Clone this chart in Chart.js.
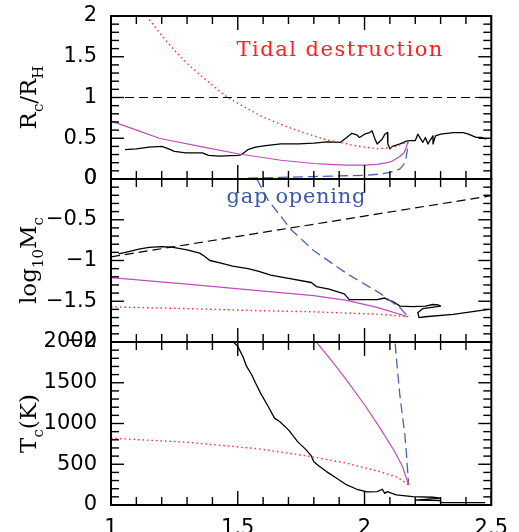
<!DOCTYPE html>
<html>
<head>
<meta charset="utf-8">
<script src="https://cdn.jsdelivr.net/npm/chart.js@4/dist/chart.umd.min.js"></script>
<style>
  html, body { margin: 0; padding: 0; background: #fff; }
  #wrap { width: 519px; height: 532px; position: relative; }
</style>
</head>
<body>
<div id="wrap"><canvas id="c" width="519" height="532"></canvas></div>
<script>
// ---- panel 1: R_c / R_H ----
const rHillX = [1, 2.5];
const rHillY = [1, 1];
const rTidalX = [1.14, 1.2, 1.25, 1.3, 1.35, 1.4, 1.46, 1.54, 1.6, 1.67, 1.74, 1.8, 1.85, 1.92, 1.96, 2.05, 2.11, 2.15, 2.172];
const rTidalY = [2.0, 1.76, 1.58, 1.42, 1.28, 1.15, 1.0, 0.86, 0.76, 0.67, 0.59, 0.53, 0.48, 0.44, 0.41, 0.37, 0.385, 0.43, 0.47];
const rGasX = [1, 1.11, 1.19, 1.35, 1.5, 1.67, 1.8, 1.86, 1.93, 2.0, 2.05, 2.09, 2.11, 2.14, 2.155, 2.165, 2.172];
const rGasY = [0.71, 0.59, 0.50, 0.40, 0.31, 0.23, 0.19, 0.18, 0.17, 0.17, 0.18, 0.20, 0.22, 0.28, 0.32, 0.39, 0.47];
const rGapX = [1.54, 1.67, 1.8, 1.93, 2.0, 2.06, 2.1, 2.14, 2.155, 2.163, 2.168, 2.172];
const rGapY = [0.01, 0.02, 0.03, 0.04, 0.045, 0.06, 0.08, 0.125, 0.18, 0.25, 0.34, 0.47];
const rSimX = [1.055, 1.10, 1.15, 1.20, 1.22, 1.25, 1.295, 1.36, 1.385, 1.425, 1.50, 1.515, 1.54, 1.57, 1.61, 1.67, 1.74, 1.80, 1.853, 1.905,
  1.93, 1.95, 1.97, 1.98, 2.0, 2.02, 2.03, 2.04, 2.05, 2.07, 2.08, 2.09, 2.092, 2.10, 2.11, 2.14, 2.17, 2.20, 2.21, 2.23,
  2.24, 2.25, 2.27, 2.27, 2.28, 2.30, 2.35, 2.39, 2.41, 2.44, 2.46, 2.48];
const rSimY = [0.36, 0.37, 0.39, 0.40, 0.38, 0.34, 0.32, 0.32, 0.29, 0.28, 0.29, 0.30, 0.36, 0.39, 0.41, 0.43, 0.43, 0.44, 0.455, 0.45,
  0.51, 0.56, 0.54, 0.51, 0.55, 0.57, 0.59, 0.50, 0.43, 0.49, 0.55, 0.57, 0.43, 0.37, 0.40, 0.43, 0.47, 0.47, 0.55, 0.45,
  0.51, 0.43, 0.53, 0.43, 0.53, 0.55, 0.57, 0.57, 0.55, 0.51, 0.51, 0.49];

// ---- panel 2: log10 M_c ----
const mCritX = [1, 2.5];
const mCritY = [-0.955, -0.205];
const mTidalX = [1, 1.3, 1.58, 1.8, 2.06, 2.172];
const mTidalY = [-1.57, -1.59, -1.615, -1.63, -1.66, -1.69];
const mGasX = [1, 1.3, 1.58, 1.8, 1.93, 2.05, 2.172];
const mGasY = [-1.21, -1.29, -1.37, -1.43, -1.49, -1.575, -1.69];
const mGapX = [1.575, 1.62, 1.71, 1.80, 1.93, 2.06, 2.14, 2.172];
const mGapY = [0, -0.26, -0.62, -0.88, -1.16, -1.40, -1.58, -1.69];
const mSimX = [1.03, 1.07, 1.11, 1.15, 1.2, 1.24, 1.3, 1.35, 1.37, 1.39, 1.43, 1.48, 1.54, 1.58, 1.63, 1.7, 1.79, 1.81, 1.86, 1.92,
  1.94, 2.0, 2.05, 2.08, 2.09, 2.11, 2.14, 2.19, 2.24, 2.27, 2.29, 2.30, 2.23, 2.21, 2.215, 2.24, 2.35, 2.44, 2.49];
const mSimY = [-0.92, -0.89, -0.86, -0.84, -0.83, -0.835, -0.87, -0.91, -0.95, -1.0, -1.03, -1.07, -1.10, -1.13, -1.18, -1.22, -1.27, -1.32, -1.35, -1.41,
  -1.48, -1.48, -1.48, -1.46, -1.48, -1.50, -1.56, -1.565, -1.56, -1.54, -1.545, -1.56, -1.59, -1.64, -1.70, -1.69, -1.66, -1.62, -1.60];

// ---- panel 3: T_c (K) ----
const tTidalX = [1, 1.3, 1.58, 1.79, 1.93, 2.06, 2.13, 2.174];
const tTidalY = [820, 770, 690, 594, 512, 410, 340, 246];
const tGasX = [1.81, 1.87, 1.93, 2.0, 2.06, 2.12, 2.15, 2.174];
const tGasY = [2000, 1770, 1530, 1230, 950, 650, 470, 246];
const tGapX = [2.121, 2.13, 2.14, 2.15, 2.158, 2.166, 2.174];
const tGapY = [1980, 1650, 1330, 1080, 900, 600, 246];
const tSimX = [1.483, 1.50, 1.52, 1.535, 1.555, 1.57, 1.59, 1.62, 1.645, 1.665, 1.70, 1.736, 1.77, 1.79, 1.80, 1.82, 1.85, 1.89, 1.93, 1.97,
  2.01, 2.05, 2.07, 2.08, 2.09, 2.125, 2.19, 2.27, 2.30, 2.20, 2.30, 2.30, 2.40, 2.476];
const tSimY = [2000, 1946, 1823, 1700, 1598, 1496, 1373, 1209, 1066, 1024, 922, 778, 676, 602, 532, 479, 410, 328, 246, 193,
  160, 164, 193, 143, 164, 123, 102, 95, 85, 60, 55, 30, 28, 28];

const pts = (xs, ys) => xs.map((x, i) => ({ x, y: ys[i] }));

const RED = '#ff2a2a', MAG = '#c04cbc', BLUE = '#4862b0', BLK = '#000';

function line(xs, ys, axis, color, width, dash) {
  return {
    data: pts(xs, ys), yAxisID: axis, showLine: true, pointRadius: 0,
    borderColor: color, borderWidth: width, borderDash: dash || [],
    borderJoinStyle: 'round', fill: false, tension: 0, clip: false
  };
}

const datasets = [
  line(rHillX, rHillY, 'yR', BLK, 1.2, [9, 5]),
  line(rTidalX, rTidalY, 'yR', RED, 1.4, [1.5, 3]),
  line(rGasX, rGasY, 'yR', MAG, 1.2),
  line(rGapX, rGapY, 'yR', BLUE, 1.3, [10, 5]),
  line(rSimX, rSimY, 'yR', BLK, 1.3),
  line(mCritX, mCritY, 'yM', BLK, 1.2, [9, 5]),
  line(mTidalX, mTidalY, 'yM', RED, 1.4, [1.5, 3]),
  line(mGasX, mGasY, 'yM', MAG, 1.2),
  line(mGapX, mGapY, 'yM', BLUE, 1.3, [10, 5]),
  line(mSimX, mSimY, 'yM', BLK, 1.3),
  line(tTidalX, tTidalY, 'yT', RED, 1.4, [1.5, 3]),
  line(tGasX, tGasY, 'yT', MAG, 1.2),
  line(tGapX, tGapY, 'yT', BLUE, 1.3, [10, 5]),
  line(tSimX, tSimY, 'yT', BLK, 1.3)
];

const tickFont = { family: '"DejaVu Sans", sans-serif', size: 21 };
const fmt = v => String(Math.round(v * 100) / 100).replace('-', '\u2212');

function yScale(min, max, step) {
  return {
    type: 'linear', position: 'left', stack: 'panels', stackWeight: 1, min, max,
    grid: { display: false, drawTicks: false }, border: { display: false },
    ticks: { stepSize: step, autoSkip: false, color: '#000', font: tickFont, padding: 14, callback: fmt },
    afterFit: s => { s.width = 111; s.paddingTop = 0; s.paddingBottom = 0; }
  };
}

// panels, top to bottom: scale id, major step, title parts
const panels = [
  ['yR', 0.5, [{ t: 'R' }, { t: 'c', sub: 1 }, { t: '/R' }, { t: 'H', sub: 1 }]],
  ['yM', 0.5, [{ t: 'log' }, { t: '10', sub: 1 }, { t: 'M' }, { t: 'c', sub: 1 }]],
  ['yT', 500, [{ t: 'T' }, { t: 'c', sub: 1 }, { t: '(K)' }]]
];

const notes = [
  { text: 'Tidal destruction', x: 1.495, y: 1.57, axis: 'yR', color: '#ff2020', spacing: '1.5px' },
  { text: 'gap opening', x: 1.456, y: -0.23, axis: 'yM', color: '#3c5aa8', spacing: '0.7px' }
];

const serif = '"DejaVu Serif", "Liberation Serif", serif';

function drawRich(ctx, parts, cx, cy, size) {
  const fontOf = p => (p.sub ? Math.round(size * 0.65) : size) + 'px ' + serif;
  let total = 0;
  const widths = parts.map(p => { ctx.font = fontOf(p); const w = ctx.measureText(p.t).width; total += w; return w; });
  ctx.save();
  ctx.translate(cx, cy);
  ctx.rotate(-Math.PI / 2);
  ctx.fillStyle = '#000';
  ctx.textBaseline = 'alphabetic';
  let x = -total / 2;
  parts.forEach((p, i) => {
    ctx.font = fontOf(p);
    ctx.fillText(p.t, x, size * 0.36 + (p.sub ? size * 0.28 : 0));
    x += widths[i];
  });
  ctx.restore();
}

const frame = {
  id: 'frame',
  // three equal panels, top to bottom
  afterLayout(chart) {
    const a = chart.chartArea, h = (a.bottom - a.top) / panels.length;
    panels.forEach(([id], k) => {
      const s = chart.scales[id];
      s.top = a.top + k * h;
      s.bottom = s.top + h;
      s.height = h;
      s.configure();
    });
  },
  beforeDatasetDraw(chart, args) {
    const s = args.meta.yScale, a = chart.chartArea, ctx = chart.ctx;
    ctx.save();
    ctx.beginPath();
    ctx.rect(a.left, s.top, a.right - a.left, s.bottom - s.top);
    ctx.clip();
  },
  afterDatasetDraw(chart) { chart.ctx.restore(); },
  afterDraw(chart) {
    const ctx = chart.ctx, xs = chart.scales.x, a = chart.chartArea;
    ctx.save();
    ctx.fillStyle = '#000';
    const w = 1.4;
    const nx = Math.round((xs.max - xs.min) / 0.1);
    for (const [id, step, title] of panels) {
      const s = chart.scales[id];
      for (let i = 0; i <= nx; i++) {
        const px = xs.getPixelForValue(xs.min + i * 0.1) - w / 2;
        const len = i % 5 === 0 ? 14 : 8;
        ctx.fillRect(px, s.top, w, len);
        ctx.fillRect(px, s.bottom - len, w, len);
      }
      const ny = Math.round((s.max - s.min) / (step / 5));
      for (let j = 0; j <= ny; j++) {
        const py = s.getPixelForValue(s.min + j * step / 5) - w / 2;
        const len = j % 5 === 0 ? 13 : 8;
        ctx.fillRect(a.left, py, len, w);
        ctx.fillRect(a.right - len, py, len, w);
      }
      ctx.strokeStyle = '#000';
      ctx.setLineDash([]);
      ctx.lineWidth = 2;
      ctx.strokeRect(a.left, s.top, a.right - a.left, s.bottom - s.top);
      drawRich(ctx, title, 28, (s.top + s.bottom) / 2, 23);
    }
    ctx.font = '21px ' + serif;
    ctx.textBaseline = 'middle';
    ctx.textAlign = 'left';
    for (const n of notes) {
      ctx.fillStyle = n.color;
      ctx.letterSpacing = n.spacing;
      ctx.fillText(n.text, xs.getPixelForValue(n.x), chart.scales[n.axis].getPixelForValue(n.y));
    }
    ctx.restore();
  }
};

new Chart(document.getElementById('c'), {
  type: 'scatter',
  data: { datasets },
  options: {
    responsive: false,
    animation: false,
    layout: { padding: { top: 16, right: 23, left: 0, bottom: 0 } },
    plugins: { legend: { display: false }, tooltip: { enabled: false } },
    scales: {
      x: {
        type: 'linear', position: 'bottom', min: 1, max: 2.5,
        grid: { display: false, drawTicks: false }, border: { display: false },
        ticks: { stepSize: 0.5, autoSkip: false, color: '#000', font: tickFont, padding: 11, maxRotation: 0, callback: fmt },
        afterFit: s => { s.height = 27; }
      },
      yT: yScale(0, 2000, 500),
      yM: yScale(-2, 0, 0.5),
      yR: yScale(0, 2, 0.5)
    }
  },
  plugins: [frame]
});
</script>
</body>
</html>
